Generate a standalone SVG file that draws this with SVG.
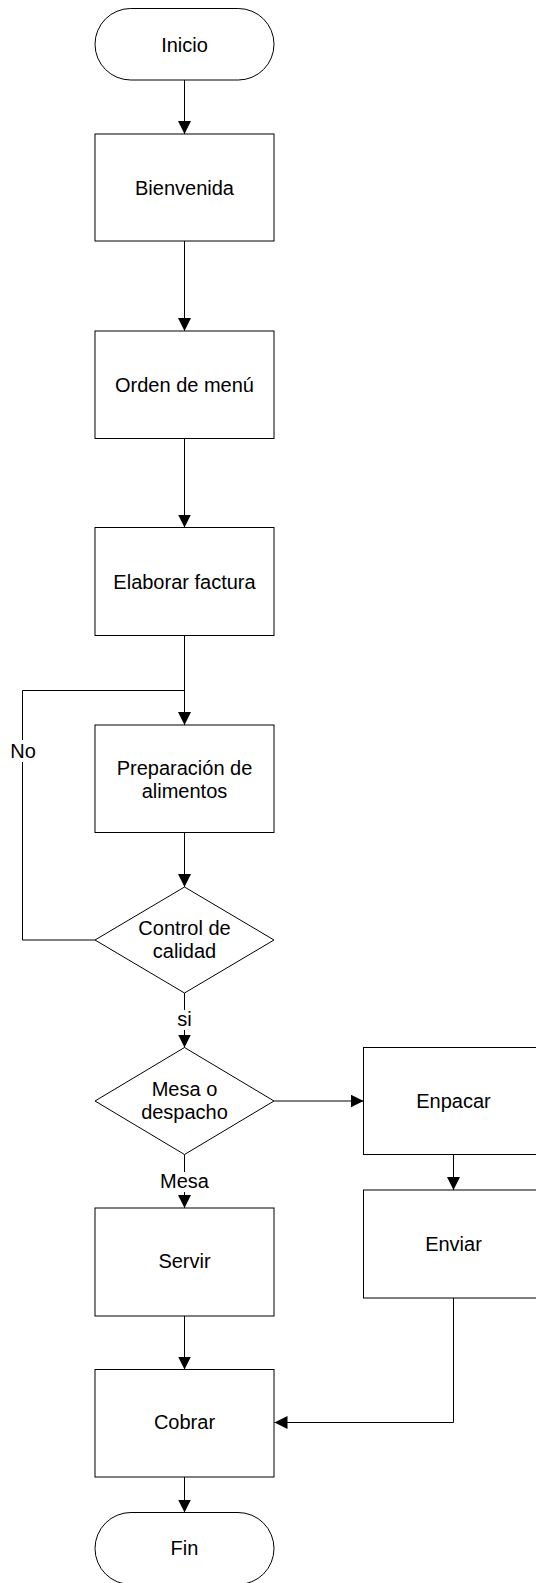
<svg xmlns="http://www.w3.org/2000/svg" width="536" height="1583" viewBox="0 0 536 1583">
<style>
.shape{fill:#fff;stroke:#000;stroke-width:1}
.conn{fill:none;stroke:#000;stroke-width:1}
text{font-family:"Liberation Sans",Arial,sans-serif;font-size:20px;fill:#000;text-anchor:middle}
</style>
<defs>
<marker id="arr" markerUnits="userSpaceOnUse" markerWidth="14" markerHeight="14" refX="13" refY="6.5" orient="auto">
<path d="M0,0 L13,6.5 L0,13 Z" fill="#000"/>
</marker>
</defs>
<rect width="536" height="1583" fill="#fff"/>
<g id="connectors">
<path class="conn" d="M184.5,80 V134" marker-end="url(#arr)"/>
<path class="conn" d="M184.5,241 V331" marker-end="url(#arr)"/>
<path class="conn" d="M184.5,438.5 V527.5" marker-end="url(#arr)"/>
<path class="conn" d="M184.5,635.5 V725" marker-end="url(#arr)"/>
<path class="conn" d="M184.5,832.5 V887" marker-end="url(#arr)"/>
<path class="conn" d="M95,940 H22.5 V690.5 H184.5"/>
<path class="conn" d="M184.5,993 V1047.5" marker-end="url(#arr)"/>
<path class="conn" d="M274,1101 H363.5" marker-end="url(#arr)"/>
<path class="conn" d="M184.5,1154.5 V1208" marker-end="url(#arr)"/>
<path class="conn" d="M453.5,1154.5 V1190" marker-end="url(#arr)"/>
<path class="conn" d="M184.5,1316 V1369.5" marker-end="url(#arr)"/>
<path class="conn" d="M453.5,1298 V1422.5 H274.5" marker-end="url(#arr)"/>
<path class="conn" d="M184.5,1477 V1512.5" marker-end="url(#arr)"/>
<rect x="10" y="740" width="26" height="22" fill="#fff"/>
<text x="23" y="758.3">No</text>
<rect x="175" y="1010" width="19" height="20" fill="#fff"/>
<text x="184.5" y="1026">si</text>
<rect x="160" y="1172" width="49" height="20" fill="#fff"/>
<text x="184.5" y="1188.3">Mesa</text>
</g>
<g id="inicio">
<rect class="shape" x="95" y="8.5" width="179" height="71.5" rx="35.75" ry="35.75"/>
<text x="184.5" y="51.5">Inicio</text>
</g>
<g id="bienvenida">
<rect class="shape" x="95" y="134" width="179" height="107"/>
<text x="184.5" y="194.5">Bienvenida</text>
</g>
<g id="orden">
<rect class="shape" x="95" y="331" width="179" height="107.5"/>
<text x="184.5" y="391.5">Orden de menú</text>
</g>
<g id="factura">
<rect class="shape" x="95" y="527.5" width="179" height="108"/>
<text x="184.5" y="588.5">Elaborar factura</text>
</g>
<g id="preparacion">
<rect class="shape" x="95" y="725" width="179" height="107.5"/>
<text x="184.5" y="774.5">Preparación de</text>
<text x="184.5" y="797.5">alimentos</text>
</g>
<g id="control">
<path class="shape" d="M184.5,887 L274,940 L184.5,993 L95,940 Z"/>
<text x="184.5" y="935">Control de</text>
<text x="184.5" y="958">calidad</text>
</g>
<g id="mesa-despacho">
<path class="shape" d="M184.5,1047.5 L274,1101 L184.5,1154.5 L95,1101 Z"/>
<text x="184.5" y="1095.5">Mesa o</text>
<text x="184.5" y="1118.8">despacho</text>
</g>
<g id="enpacar">
<rect class="shape" x="363.5" y="1047.5" width="180" height="107"/>
<text x="453.5" y="1107.5">Enpacar</text>
</g>
<g id="enviar">
<rect class="shape" x="363.5" y="1190" width="180" height="108"/>
<text x="453.5" y="1250.7">Enviar</text>
</g>
<g id="servir">
<rect class="shape" x="95" y="1208" width="179" height="108"/>
<text x="184.5" y="1268.3">Servir</text>
</g>
<g id="cobrar">
<rect class="shape" x="95" y="1369.5" width="179" height="107.5"/>
<text x="184.5" y="1429.3">Cobrar</text>
</g>
<g id="fin">
<rect class="shape" x="95" y="1512.5" width="179" height="72" rx="36" ry="36"/>
<text x="184.5" y="1555">Fin</text>
</g>
</svg>
